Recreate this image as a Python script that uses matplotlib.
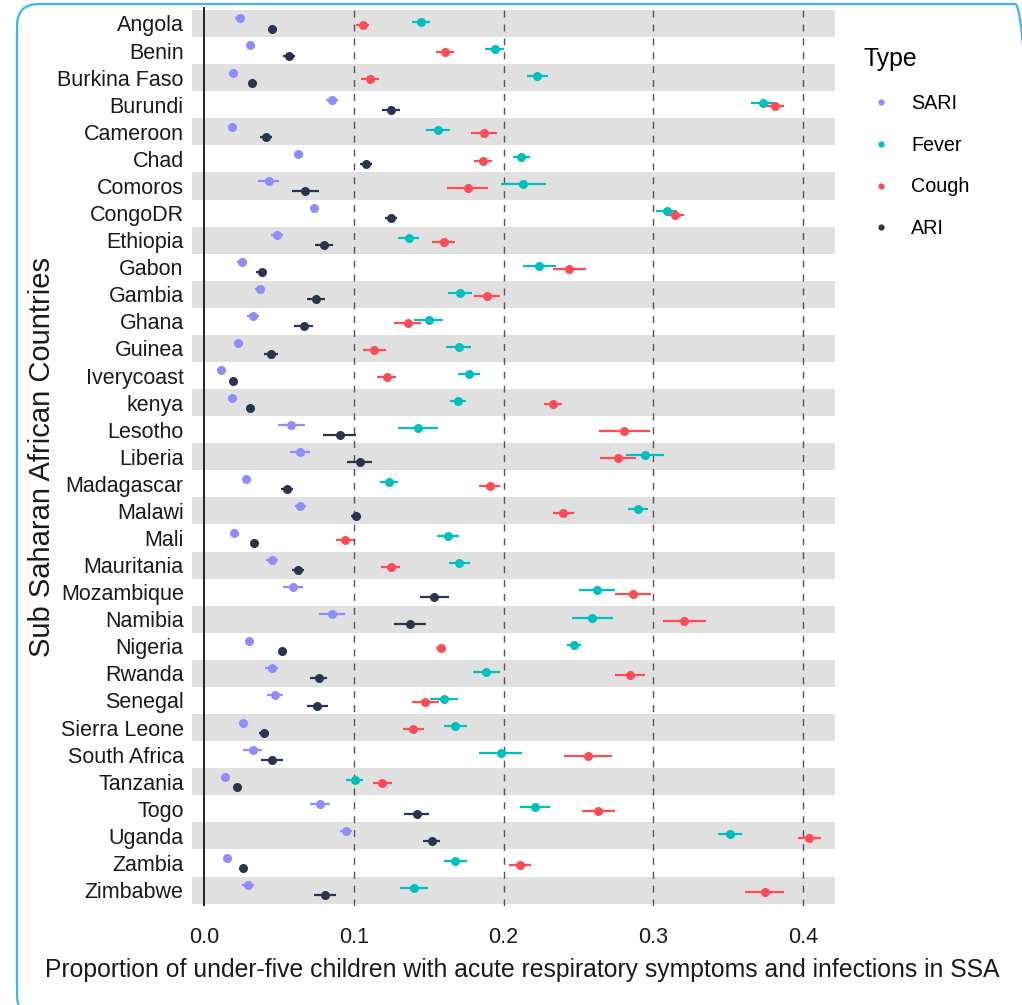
import numpy as np
import matplotlib
matplotlib.use("Agg")
import matplotlib.pyplot as plt
from matplotlib.patches import FancyBboxPatch
from matplotlib.lines import Line2D

plt.rcParams["font.family"] = ["Liberation Sans", "DejaVu Sans"]

# =========================
# Data
# =========================
countries = [
    "Angola", "Benin", "Burkina Faso", "Burundi", "Cameroon", "Chad", "Comoros",
    "CongoDR", "Ethiopia", "Gabon", "Gambia", "Ghana", "Guinea", "Iverycoast",
    "kenya", "Lesotho", "Liberia", "Madagascar", "Malawi", "Mali", "Mauritania",
    "Mozambique", "Namibia", "Nigeria", "Rwanda", "Senegal", "Sierra Leone",
    "South Africa", "Tanzania", "Togo", "Uganda", "Zambia", "Zimbabwe",
]

sari = [0.024, 0.031, 0.0195, 0.0855, 0.019, 0.063, 0.0433, 0.0735, 0.049, 0.0252,
        0.0373, 0.033, 0.023, 0.0115, 0.0184, 0.0584, 0.0642, 0.0282, 0.0644, 0.0203,
        0.0452, 0.0595, 0.0855, 0.0302, 0.0452, 0.0474, 0.0263, 0.0324, 0.0143, 0.0773,
        0.0946, 0.0154, 0.0296]
sari_err = [0.003, 0.003, 0.002, 0.004, 0.002, 0.003, 0.007, 0.003, 0.004, 0.003,
            0.0035, 0.004, 0.003, 0.002, 0.002, 0.009, 0.0068, 0.002, 0.0035, 0.002,
            0.004, 0.0065, 0.0084, 0.002, 0.0045, 0.0055, 0.003, 0.0065, 0.002, 0.0066,
            0.004, 0.002, 0.004]

fever = [0.145, 0.194, 0.2225, 0.373, 0.156, 0.212, 0.2133, 0.309, 0.1366, 0.224,
         0.171, 0.150, 0.170, 0.177, 0.1697, 0.1429, 0.2945, 0.1234, 0.2896, 0.1629,
         0.1705, 0.2624, 0.2594, 0.247, 0.1884, 0.160, 0.1678, 0.1982, 0.1006, 0.221,
         0.351, 0.1678, 0.1401]
fever_err = [0.006, 0.0065, 0.007, 0.0075, 0.008, 0.006, 0.015, 0.007, 0.007, 0.011,
             0.008, 0.0095, 0.0085, 0.0073, 0.0055, 0.0135, 0.0128, 0.006, 0.0067, 0.0074,
             0.007, 0.0123, 0.0134, 0.0048, 0.009, 0.0093, 0.0078, 0.0144, 0.0058, 0.0099,
             0.008, 0.0078, 0.0093]

cough = [0.106, 0.161, 0.111, 0.381, 0.187, 0.186, 0.176, 0.3145, 0.160, 0.244,
         0.189, 0.136, 0.1138, 0.122, 0.233, 0.2805, 0.2764, 0.1908, 0.240, 0.0943,
         0.1248, 0.2865, 0.3208, 0.1582, 0.2843, 0.1478, 0.1396, 0.2564, 0.119, 0.2632,
         0.4042, 0.2109, 0.3743]
cough_err = [0.0045, 0.006, 0.006, 0.0065, 0.0085, 0.006, 0.0135, 0.006, 0.0075, 0.011,
             0.0085, 0.009, 0.0075, 0.0065, 0.006, 0.017, 0.0123, 0.0069, 0.0069, 0.006,
             0.0063, 0.0123, 0.0144, 0.0033, 0.0099, 0.0092, 0.007, 0.016, 0.0063, 0.011,
             0.0078, 0.0075, 0.013]

ari = [0.0455, 0.0565, 0.032, 0.125, 0.0415, 0.108, 0.0677, 0.1248, 0.080, 0.0384,
       0.0749, 0.0666, 0.0447, 0.0195, 0.031, 0.0905, 0.104, 0.0551, 0.1015, 0.0332,
       0.0625, 0.1538, 0.1376, 0.0524, 0.0765, 0.0757, 0.040, 0.0455, 0.0222, 0.142,
       0.152, 0.0258, 0.0809]
ari_err = [0.003, 0.004, 0.002, 0.006, 0.004, 0.004, 0.009, 0.004, 0.006, 0.0035,
           0.006, 0.0065, 0.0045, 0.002, 0.002, 0.011, 0.0082, 0.004, 0.0035, 0.002,
           0.004, 0.0097, 0.0106, 0.002, 0.0055, 0.007, 0.0035, 0.0073, 0.002, 0.0085,
           0.0055, 0.002, 0.0075]

types = ["SARI", "Fever", "Cough", "ARI"]
colors = {"SARI": "#8f8cff", "Fever": "#00bfbf", "Cough": "#ff4b55", "ARI": "#2a3350"}
offsets = {"SARI": -0.1875, "Fever": -0.0625, "Cough": 0.0625, "ARI": 0.1875}
values = {"SARI": (sari, sari_err), "Fever": (fever, fever_err),
          "Cough": (cough, cough_err), "ARI": (ari, ari_err)}

# =========================
# Figure
# =========================
fig = plt.figure(figsize=(10.22, 10.05), dpi=100)
ax = fig.add_axes([0.1879, 0.0982, 0.6292, 0.8946])

y = np.arange(len(countries))

# alternating grey bands
for i in y:
    if i % 2 == 0:
        ax.axhspan(i - 0.5, i + 0.5, color="#e0e0e0", lw=0, zorder=0)

ax.axvline(0, color="black", lw=1.2, zorder=1)
for xv in [0.1, 0.2, 0.3, 0.4]:
    ax.axvline(xv, color="#555555", lw=1.0, ls=(0, (5, 5)), zorder=1)

for t in types:
    vals, errs = values[t]
    ax.errorbar(vals, y + offsets[t], xerr=errs, fmt="o", color=colors[t],
                ecolor=colors[t], elinewidth=1.6, capsize=0, markersize=6.5,
                markeredgewidth=0, zorder=3)

ax.set_xlim(-0.008, 0.4214)
ax.set_ylim(len(countries) - 1 + 0.6, -0.6)
ax.set_yticks(y)
ax.set_yticklabels(countries)
ax.set_xticks([0.0, 0.1, 0.2, 0.3, 0.4])
ax.set_xticklabels(["0.0", "0.1", "0.2", "0.3", "0.4"])
ax.tick_params(axis="both", length=0, labelsize=15.5, colors="#1a1a1a")
ax.tick_params(axis="x", pad=15)
ax.tick_params(axis="y", pad=6)
for s in ax.spines.values():
    s.set_visible(False)

ax.set_xlabel("Proportion of under-five children with acute respiratory symptoms and infections in SSA",
              fontsize=17.8, color="#1a1a1a")
ax.xaxis.set_label_coords(0.513, -0.0575)
ax.xaxis.label.set_va("top")
ax.set_ylabel("Sub Saharan African Countries", fontsize=21, color="#1a1a1a", labelpad=1)

handles = [Line2D([], [], ls="none", marker="o", color=colors[t], markersize=4.5, markeredgewidth=0)
           for t in types]
leg = fig.legend(handles, types, title="Type", loc="upper left",
                 bbox_to_anchor=(856 / 1022, 1 - 39.5 / 1005), frameon=False,
                 fontsize=14.2, title_fontsize=17.8, labelspacing=1.15,
                 handlelength=1.7, handletextpad=0.7, borderaxespad=0)
leg._legend_box.align = "left"

# light blue rounded frame around the whole picture
frame = FancyBboxPatch((0.17, -0.12), 10.2, 10.13,
                       boxstyle="round,pad=0,rounding_size=0.22",
                       transform=fig.dpi_scale_trans, fill=False,
                       edgecolor="#3db5ef", lw=1.6, clip_on=False)
fig.patches.append(frame)

fig.savefig("out.png", dpi=100)
